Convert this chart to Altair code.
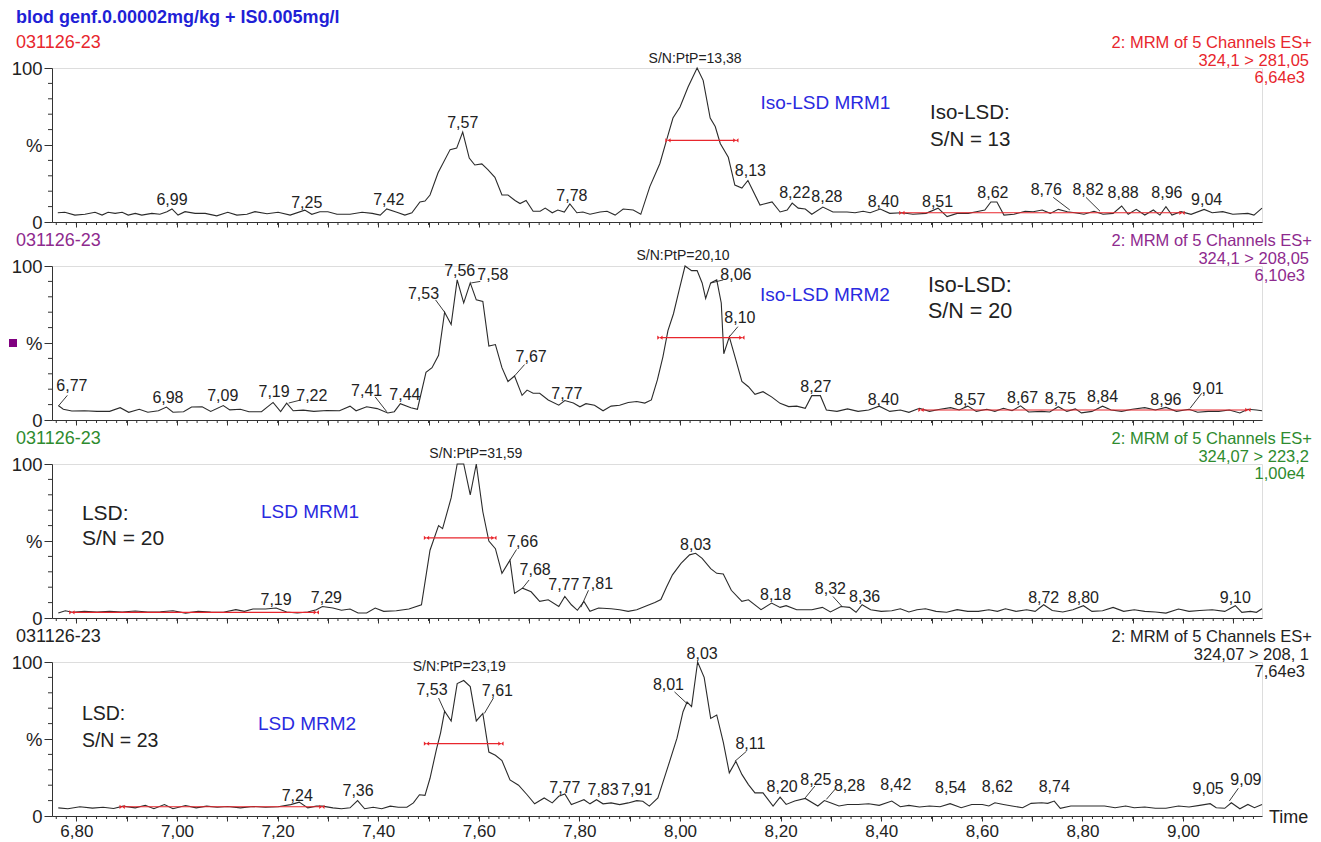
import altair as alt
import pandas as pd

FONT = "Liberation Sans"
W, H = 1210, 154
X_DOMAIN = [6.7515, 9.157]
RED = "#e8262d"
INK = "#222222"
BLUE = "#2a2ae0"

# ---------------- traces (time, % intensity) ----------------
p1_time = [6.763, 6.777, 6.797, 6.817, 6.837, 6.851, 6.863, 6.877, 6.891, 6.903, 6.917, 6.930, 6.950, 6.966,
           6.980, 6.990, 7.002, 7.016, 7.036, 7.056, 7.079, 7.101, 7.119, 7.139, 7.155, 7.179, 7.201, 7.225,
           7.254, 7.268, 7.284, 7.300, 7.318, 7.344, 7.368, 7.388, 7.404, 7.417, 7.437, 7.453, 7.467, 7.483,
           7.493, 7.503, 7.519, 7.543, 7.556, 7.568, 7.581, 7.592, 7.606, 7.618, 7.632, 7.646, 7.658, 7.672,
           7.682, 7.694, 7.708, 7.722, 7.732, 7.746, 7.757, 7.770, 7.781, 7.795, 7.807, 7.821, 7.841, 7.855,
           7.871, 7.887, 7.907, 7.922, 7.940, 7.960, 7.974, 7.986, 8.000, 8.016, 8.034, 8.046, 8.060, 8.070,
           8.080, 8.096, 8.109, 8.123, 8.135, 8.159, 8.183, 8.199, 8.213, 8.223, 8.235, 8.249, 8.262, 8.284,
           8.304, 8.332, 8.348, 8.364, 8.378, 8.398, 8.417, 8.441, 8.463, 8.489, 8.513, 8.531, 8.551, 8.573,
           8.589, 8.606, 8.618, 8.630, 8.644, 8.664, 8.686, 8.702, 8.720, 8.736, 8.752, 8.770, 8.785, 8.803,
           8.823, 8.841, 8.861, 8.878, 8.891, 8.907, 8.924, 8.941, 8.954, 8.966, 8.978, 8.996, 9.016, 9.042,
           9.058, 9.079, 9.099, 9.129, 9.141, 9.157]
p1_int = [6.0, 6.3, 4.5, 5.0, 6.3, 4.5, 6.3, 5.6, 6.3, 4.5, 5.6, 4.5, 5.6, 5.0,
          6.7, 8.5, 4.5, 6.7, 5.6, 5.6, 4.0, 6.3, 4.5, 5.0, 6.7, 5.4, 6.3, 4.5,
          7.7, 5.0, 6.7, 6.7, 5.0, 5.0, 6.3, 5.6, 4.5, 8.5, 6.3, 4.5, 6.0, 13.0,
          13.6, 17.5, 32, 47, 48, 58.4, 41.5, 37, 37.7, 34, 29, 17.5, 17.5, 14,
          12, 14, 7, 7, 9, 6, 7.8, 6.5, 11.7, 6, 6.5, 5, 6.5, 7,
          4.5, 8.4, 7.8, 5, 23, 38, 54, 67.5, 74.7, 87.7, 100, 92, 67.5, 62,
          51, 42, 24, 22, 27, 11, 13, 6.5, 7.8, 12.3, 9, 8.4, 5, 9.7,
          6.5, 6.5, 6, 7, 6, 8.4, 5.6, 6, 5, 5.6, 9, 3.5, 5.6, 5.6,
          6.7, 7.8, 13, 13, 4.5, 5, 7, 6.7, 7.8, 5.6, 8.2, 6.7, 6, 5,
          7, 5, 5.6, 10.4, 5, 8.2, 4.5, 7.8, 4.5, 10, 4.5, 6.7, 5, 8.2,
          6, 6.7, 5, 5.6, 4.5, 9]

p2_time = [6.764, 6.774, 6.791, 6.816, 6.841, 6.866, 6.887, 6.904, 6.925, 6.942, 6.963, 6.979, 6.992, 7.013,
           7.029, 7.050, 7.067, 7.092, 7.105, 7.126, 7.143, 7.168, 7.191, 7.206, 7.218, 7.231, 7.251, 7.272,
           7.298, 7.323, 7.344, 7.356, 7.377, 7.398, 7.419, 7.432, 7.444, 7.465, 7.478, 7.495, 7.507, 7.520,
           7.532, 7.545, 7.557, 7.570, 7.583, 7.595, 7.608, 7.620, 7.633, 7.646, 7.658, 7.671, 7.686, 7.696,
           7.708, 7.721, 7.738, 7.759, 7.771, 7.788, 7.801, 7.813, 7.830, 7.847, 7.863, 7.880, 7.897, 7.914,
           7.930, 7.943, 7.955, 7.966, 7.976, 7.987, 7.998, 8.010, 8.023, 8.034, 8.044, 8.051, 8.061, 8.073,
           8.082, 8.087, 8.098, 8.111, 8.123, 8.136, 8.149, 8.165, 8.182, 8.199, 8.216, 8.232, 8.249, 8.262,
           8.279, 8.291, 8.312, 8.333, 8.354, 8.375, 8.396, 8.417, 8.438, 8.455, 8.476, 8.496, 8.517, 8.538,
           8.555, 8.572, 8.589, 8.610, 8.626, 8.643, 8.660, 8.677, 8.693, 8.719, 8.735, 8.752, 8.769, 8.786,
           8.798, 8.819, 8.840, 8.857, 8.878, 8.899, 8.924, 8.945, 8.966, 8.987, 9.012, 9.029, 9.050, 9.071,
           9.092, 9.113, 9.129, 9.146, 9.157]
p2_int = [9.4, 7, 5.8, 6, 5.6, 5.6, 8, 5, 7, 5, 6, 8.4, 5, 5.4,
          8.4, 8.6, 5.6, 9.4, 6.6, 7, 5.4, 5.4, 11.4, 5.4, 11, 6, 6.4, 5.6,
          6.2, 6, 9, 6, 8.6, 7.4, 4.6, 5.4, 10.6, 8, 7, 31, 34, 42,
          70, 62, 91, 76, 89, 78, 77, 48, 49, 34, 25, 28.6, 16, 19.4,
          17.4, 17.4, 13, 9.6, 12.6, 11, 8.6, 10.6, 9.6, 6, 9, 9.6, 11.4, 12,
          11, 13, 26, 41, 58, 69, 84, 100, 97, 97, 89, 79, 89, 91,
          76, 43, 54, 39, 25, 21.6, 16.7, 18.4, 15, 10.8, 8.7, 9, 7.6, 15.8,
          15.8, 6.5, 5.6, 7.2, 5.6, 6.5, 9, 5.6, 6.5, 5, 7.6, 5.6, 7, 8,
          6.5, 9, 5.6, 7, 5.6, 7.6, 6, 9.2, 5.2, 5.6, 5.2, 8.6, 5.6, 7.2,
          4.6, 5.6, 9, 6.5, 5.6, 7, 8, 6.5, 8.2, 5.6, 7, 5, 5.6, 5.6,
          6.5, 4.6, 7, 6.5, 6]

p3_time = [6.764, 6.778, 6.792, 6.816, 6.841, 6.866, 6.891, 6.917, 6.942, 6.967, 6.992, 7.017, 7.042, 7.067,
           7.092, 7.117, 7.134, 7.151, 7.176, 7.197, 7.218, 7.239, 7.260, 7.277, 7.289, 7.310, 7.327, 7.344,
           7.360, 7.377, 7.394, 7.411, 7.436, 7.461, 7.486, 7.503, 7.520, 7.528, 7.545, 7.557, 7.570, 7.583,
           7.595, 7.608, 7.620, 7.633, 7.646, 7.662, 7.671, 7.687, 7.704, 7.721, 7.738, 7.759, 7.771, 7.784,
           7.796, 7.809, 7.821, 7.838, 7.863, 7.880, 7.897, 7.914, 7.930, 7.950, 7.962, 7.973, 7.985, 8.002,
           8.019, 8.031, 8.044, 8.061, 8.073, 8.086, 8.102, 8.123, 8.136, 8.161, 8.182, 8.199, 8.211, 8.232,
           8.262, 8.283, 8.299, 8.320, 8.337, 8.350, 8.362, 8.379, 8.400, 8.421, 8.438, 8.455, 8.471, 8.488,
           8.509, 8.530, 8.551, 8.572, 8.593, 8.614, 8.631, 8.647, 8.668, 8.689, 8.706, 8.723, 8.740, 8.761,
           8.781, 8.802, 8.819, 8.840, 8.861, 8.882, 8.903, 8.924, 8.945, 8.966, 8.991, 9.012, 9.033, 9.058,
           9.083, 9.104, 9.117, 9.134, 9.146, 9.157]
p3_int = [3.2, 4.7, 3.7, 4.3, 3.9, 4.3, 3.9, 4.5, 3.9, 4.1, 4.7, 3.2, 4.3, 3.9,
          3.7, 5.4, 4.3, 5.8, 5.8, 6.5, 3.9, 3.2, 3.9, 5.4, 7.5, 6.5, 5.0, 5.8,
          3.2, 3.2, 6.5, 4.3, 4.7, 5.8, 8.6, 44, 60, 58, 78, 100, 100, 80,
          100, 69, 50, 45, 29, 37.6, 16, 19.4, 17, 10.8, 11.8, 7.5, 14, 8.6,
          5, 10.8, 4.3, 6.5, 6, 5.4, 4.3, 5.4, 7.5, 10, 12, 20, 28, 35.5,
          41, 42, 38.7, 32, 29, 28.6, 18, 10.8, 11.8, 5.4, 9.7, 6.9, 8, 5.4,
          5.4, 6.9, 3.9, 7.5, 6.9, 3.7, 8.6, 5.4, 4.3, 4.7, 6.0, 3.9, 5.4, 6.0,
          4.3, 3.7, 5.4, 4.3, 4.3, 5.4, 4.3, 6.0, 4.3, 5.4, 4.3, 8.6, 4.9, 3.9,
          5.4, 8.0, 4.3, 4.7, 6.9, 4.3, 5.4, 4.3, 3.9, 3.2, 5.8, 4.3, 4.9, 5.4,
          4.3, 8.0, 3.7, 4.3, 3.7, 6.0]

p4_time = [6.764, 6.783, 6.807, 6.832, 6.853, 6.874, 6.893, 6.917, 6.937, 6.954, 6.975, 6.992, 7.017, 7.038,
           7.059, 7.080, 7.101, 7.126, 7.151, 7.176, 7.201, 7.226, 7.243, 7.260, 7.277, 7.289, 7.310, 7.327,
           7.344, 7.359, 7.373, 7.390, 7.407, 7.424, 7.440, 7.457, 7.470, 7.482, 7.493, 7.503, 7.516, 7.524,
           7.532, 7.545, 7.557, 7.570, 7.583, 7.595, 7.608, 7.620, 7.633, 7.646, 7.662, 7.679, 7.696, 7.711,
           7.730, 7.746, 7.759, 7.771, 7.784, 7.796, 7.809, 7.821, 7.834, 7.847, 7.863, 7.880, 7.897, 7.914,
           7.926, 7.939, 7.956, 7.977, 7.994, 8.006, 8.014, 8.023, 8.035, 8.048, 8.061, 8.073, 8.086, 8.098,
           8.111, 8.123, 8.136, 8.149, 8.165, 8.185, 8.199, 8.211, 8.228, 8.249, 8.274, 8.287, 8.299, 8.316,
           8.333, 8.354, 8.375, 8.396, 8.421, 8.438, 8.455, 8.476, 8.496, 8.517, 8.537, 8.559, 8.580, 8.601,
           8.614, 8.626, 8.643, 8.660, 8.681, 8.698, 8.719, 8.731, 8.744, 8.756, 8.777, 8.798, 8.823, 8.844,
           8.865, 8.886, 8.903, 8.924, 8.945, 8.966, 8.991, 9.012, 9.033, 9.054, 9.066, 9.083, 9.096, 9.113,
           9.129, 9.142, 9.157]
p4_int = [5.3, 4.7, 6, 5.1, 5.7, 4.9, 6.4, 5.3, 7, 4.7, 7.4, 4.7, 6.8, 5.3,
          6.4, 5.7, 6.2, 5.3, 6.2, 5.7, 6, 7.4, 9, 5.3, 6.4, 6.4, 5.3, 4.7,
          5.3, 10, 4.7, 5.7, 4.7, 6.4, 5.7, 5.7, 8.5, 13.8, 13.4, 24.5, 43.6, 54,
          68, 61.7, 86, 88, 84, 61.7, 66.6, 41.5, 39.4, 36, 23.4, 20, 13.8, 7.9,
          11.7, 8.5, 12.8, 14.3, 7.4, 9, 10.6, 7.9, 10.6, 7.9, 8.5, 7.4, 8.5, 10,
          9.6, 6.4, 11.7, 33, 50.5, 67.7, 74, 71, 100, 90, 63.4, 65.6, 48, 28,
          35.5, 27, 20.4, 15, 15, 6.5, 12.3, 7.5, 9.7, 11.4, 6.5, 10, 8.6, 6.5,
          7.5, 7.5, 8, 6.9, 9.7, 6, 6.9, 5.8, 6.5, 6, 8, 5.4, 7.5, 7.5,
          6.5, 8.6, 7.5, 6.5, 5.4, 8.2, 8.6, 8.2, 9.7, 5, 6.5, 6.5, 6.5, 6.5,
          5.4, 6.5, 5.4, 5.8, 5, 5, 6.5, 5.8, 6.9, 8, 5.4, 5, 8.6, 4.7,
          7.5, 5.4, 7.5]

# ---------------- peak labels ----------------
p1_lab = ["6,99", "7,25", "7,42", "7,57", "7,78", "8,13", "8,22", "8,28", "8,40", "8,51", "8,62",
          "8,76", "8,82", "8,88", "8,96", "9,04"]
p1_lab_t = [6.990, 7.258, 7.421, 7.568, 7.785, 8.140, 8.228, 8.292, 8.404, 8.512, 8.622,
            8.728, 8.811, 8.881, 8.968, 9.047]
p1_lab_v = [14.3, 12.3, 14.3, 64, 17, 33, 19, 16, 13, 13, 19, 21, 21, 19, 19, 14]

p2_lab = ["6,77", "6,98", "7,09", "7,19", "7,22", "7,41", "7,44", "7,53", "7,56", "7,58", "7,67", "7,77",
          "8,06", "8,10", "8,27", "8,40", "8,57", "8,67", "8,75", "8,84", "8,96", "9,01"]
p2_lab_t = [6.791, 6.982, 7.091, 7.193, 7.268, 7.377, 7.453, 7.490, 7.562, 7.628, 7.704, 7.775,
            8.111, 8.119, 8.270, 8.404, 8.576, 8.681, 8.756, 8.840, 8.966, 9.050]
p2_lab_v = [22, 14, 15.6, 18, 15.5, 19, 16, 82, 97, 94, 41, 16.6,
            94, 66, 21.6, 13, 13, 14, 13.4, 15, 13, 20]

p3_lab = ["7,19", "7,29", "7,66", "7,68", "7,77", "7,81", "8,03", "8,18", "8,32", "8,36", "8,72", "8,80", "9,10"]
p3_lab_t = [7.197, 7.297, 7.687, 7.712, 7.769, 7.836, 8.031, 8.190, 8.299, 8.367, 8.723, 8.802, 9.104]
p3_lab_v = [11.8, 13, 49.5, 31, 21.5, 22, 47.5, 15, 18.7, 13.5, 13, 13, 13]

p4_lab = ["7,24", "7,36", "7,53", "7,61", "7,77", "7,83", "7,91", "8,01", "8,03", "8,11", "8,20", "8,25",
          "8,28", "8,42", "8,54", "8,62", "8,74", "9,05", "9,09"]
p4_lab_t = [7.239, 7.360, 7.507, 7.637, 7.771, 7.847, 7.914, 7.977, 8.044, 8.140, 8.203, 8.270,
            8.337, 8.429, 8.538, 8.631, 8.744, 9.050, 9.125]
p4_lab_v = [12.8, 16, 82, 81, 18.5, 17, 17, 85, 105, 47, 19, 23.6,
            19.4, 20, 18, 18.7, 18.7, 17.8, 23.6]

# leader lines (t1, v1, t2, v2)
p1_lead = [(8.742, 16, 8.775, 7.8), (8.807, 16, 8.835, 7)]
p2_lead = [(6.782, 16, 6.765, 9.4), (7.246, 13, 7.222, 11), (7.394, 15, 7.417, 5.4),
           (7.514, 78, 7.532, 70), (7.603, 90, 7.585, 89), (7.691, 36, 7.671, 28.6),
           (8.086, 91, 8.062, 89), (8.115, 60.6, 8.098, 54), (9.037, 17.3, 9.014, 7.6)]
p3_lead = [(7.675, 44.5, 7.662, 37.6), (7.700, 24.7, 7.687, 19.4), (7.818, 18, 7.803, 7),
           (8.304, 14, 8.322, 7.5)]
p4_lead = [(7.520, 76.6, 7.532, 68), (7.629, 76.6, 7.611, 66.6), (7.989, 80.6, 8.014, 73),
           (8.132, 42, 8.109, 35.5), (8.268, 19.4, 8.249, 11.8), (8.310, 18, 8.291, 10.8),
           (9.110, 18, 9.092, 9.7)]

# S/N peak-width bars and noise regions (t1, t2, level)
p_sn_bar = [(7.976, 8.111, 53), (7.960, 8.123, 53.5), (7.496, 7.630, 52), (7.496, 7.644, 47)]
p_noise = [(8.441, 8.998, 6), (8.479, 9.129, 6.5), (6.791, 7.277, 3.7), (6.891, 7.288, 6)]
p_snptp = ["S/N:PtP=13,38", "S/N:PtP=20,10", "S/N:PtP=31,59", "S/N:PtP=23,19"]
p_snptp_t = [8.030, 8.006, 7.594, 7.561]
p_snptp_v = [106, 106.5, 106.5, 97]

# channel descriptions
ids = ["031126-23"] * 4
ch_line1 = ["2: MRM of 5 Channels ES+"] * 4
ch_line2 = ["324,1 > 281,05", "324,1 > 208,05", "324,07 > 223,2", "324,07 > 208, 1"]
ch_line3 = ["6,64e3", "6,10e3", "1,00e4", "7,64e3"]
ch_color = ["#e8262d", "#8e2a8e", "#2e8b2e", "#222222"]
trace_name = ["Iso-LSD MRM1", "Iso-LSD MRM2", "LSD MRM1", "LSD MRM2"]
trace_name_t = [8.160, 8.159, 7.167, 7.161]
trace_name_v = [77, 81, 69, 60]
sn_head = ["Iso-LSD:", "Iso-LSD:", "LSD:", "LSD:"]
sn_value = ["S/N = 13", "S/N = 20", "S/N = 20", "S/N = 23"]
sn_t = [8.497, 8.493, 6.811, 6.811]
sn_v1 = [71, 87, 67.5, 66]
sn_v2 = [53, 70, 51, 49]
sn_size = [20.5, 21.5, 21, 19.5]
TITLE = "blod genf.0.00002mg/kg + IS0.005mg/l"

XT_MAJOR = [6.8, 6.9, 7.0, 7.1, 7.2, 7.3, 7.4, 7.5, 7.6, 7.7, 7.8, 7.9, 8.0, 8.1, 8.2, 8.3,
            8.4, 8.5, 8.6, 8.7, 8.8, 8.9, 9.0, 9.1]
XT_MINOR = [round(6.76 + 0.02 * k, 2) for k in range(120)]
YT_MINOR = [10, 20, 30, 40, 60, 70, 80, 90]

XS = alt.Scale(domain=X_DOMAIN, nice=False, zero=False)
YS = alt.Scale(domain=[0, 100], nice=False)
BOWTIE = "M-1,-0.8L1,0.8L1,-0.8L-1,0.8Z"


def X(field):
    return alt.X(field, type="quantitative", scale=XS, title=None)


def Y(field):
    return alt.Y(field, type="quantitative", scale=YS, title=None)


def txt_px(text, x, y, size, color, align="left", weight="normal"):
    return alt.Chart(alt.Data(values=[{}])).mark_text(
        text=text, align=align, baseline="middle", font=FONT, fontSize=size,
        color=color, fontWeight=weight
    ).encode(x=alt.value(x), y=alt.value(y))


def txt_data(text, t, v, size, color, align="left"):
    df = pd.DataFrame({"t": [t], "v": [v], "s": [text]})
    return alt.Chart(df).mark_text(
        align=align, baseline="middle", font=FONT, fontSize=size, color=color
    ).encode(x=X("t"), y=Y("v"), text="s:N")


def panel(i, time, inten, lab, lab_t, lab_v, leads):
    bottom = i == 3
    xaxis = alt.Axis(
        values=XT_MAJOR, tickSize=5, grid=False, title=None, labels=bottom,
        labelExpr="round(datum.value*10) % 2 == 0 ? replace(format(datum.value, '.2f'), '.', ',') : ''",
        labelFont=FONT, labelFontSize=17, labelColor=INK, labelPadding=2,
        domainColor="#333", tickColor="#333", labelFlush=False,
    )
    yaxis = alt.Axis(
        values=[0, 50, 100], tickSize=8, grid=False, title=None,
        labelExpr="datum.value == 50 ? '%' : datum.label",
        labelFont=FONT, labelFontSize=18.5, labelColor=INK, labelPadding=2,
        domainColor="#333", tickColor="#333",
    )
    trace = alt.Chart(pd.DataFrame({"t": time, "v": inten})).mark_line(
        color="#2b2b2b", strokeWidth=1.1
    ).encode(
        x=alt.X("t:Q", scale=XS, axis=xaxis, title=None),
        y=alt.Y("v:Q", scale=YS, axis=yaxis, title=None),
    )
    xminor = alt.Chart(pd.DataFrame({"t": XT_MINOR})).mark_rule(color="#333", strokeWidth=1).encode(
        x=X("t"), y=alt.value(H), y2=alt.value(H + 3))
    yminor = alt.Chart(pd.DataFrame({"v": YT_MINOR})).mark_rule(color="#333", strokeWidth=1).encode(
        y=Y("v"), x=alt.value(-4), x2=alt.value(0))

    bars = pd.DataFrame({
        "t1": [p_sn_bar[i][0], p_noise[i][0]],
        "t2": [p_sn_bar[i][1], p_noise[i][1]],
        "v": [p_sn_bar[i][2], p_noise[i][2]],
    })
    red_rules = alt.Chart(bars).mark_rule(color=RED, strokeWidth=1.2).encode(
        x=X("t1"), x2="t2", y=Y("v"))
    ends = pd.DataFrame({
        "t": [p_sn_bar[i][0], p_sn_bar[i][1], p_noise[i][0], p_noise[i][1]],
        "v": [p_sn_bar[i][2], p_sn_bar[i][2], p_noise[i][2], p_noise[i][2]],
    })
    red_ends = alt.Chart(ends).mark_point(
        shape=BOWTIE, filled=True, size=28, color=RED, opacity=1
    ).encode(x=X("t"), y=Y("v"))

    labels = alt.Chart(pd.DataFrame({"t": lab_t, "v": lab_v, "s": lab})).mark_text(
        font=FONT, fontSize=16, color=INK, baseline="middle", align="center"
    ).encode(x=X("t"), y=Y("v"), text="s:N")
    ld = pd.DataFrame(leads, columns=["t1", "v1", "t2", "v2"])
    leaders = alt.Chart(ld).mark_rule(color=INK, strokeWidth=0.9).encode(
        x=X("t1"), x2="t2", y=Y("v1"), y2="v2")

    layers = [trace, xminor, yminor, red_rules, red_ends, leaders, labels,
              txt_data(p_snptp[i], p_snptp_t[i], p_snptp_v[i], 14, INK, "center"),
              txt_data(trace_name[i], trace_name_t[i], trace_name_v[i], 19, BLUE),
              txt_data(sn_head[i], sn_t[i], sn_v1[i], sn_size[i], INK),
              txt_data(sn_value[i], sn_t[i], sn_v2[i], sn_size[i], INK),
              txt_px(ids[i], -36, -25, 18, ch_color[i]),
              txt_px(ch_line1[i], W + 50, -25, 16.5, ch_color[i], "right"),
              txt_px(ch_line2[i], W + 47, -7, 16.5, ch_color[i], "right"),
              txt_px(ch_line3[i], W + 43, 10, 16.5, ch_color[i], "right")]
    if i == 0:
        layers.append(txt_px(TITLE, -36, -50, 18, "#1f1fd6", weight="bold"))
    if i == 1:
        layers.append(alt.Chart(alt.Data(values=[{}])).mark_square(
            size=64, color="#800080", opacity=1).encode(x=alt.value(-39), y=alt.value(77)))
    if bottom:
        layers.append(txt_px("Time", W + 7, H + 2, 18, INK))
    return alt.layer(*layers).properties(width=W, height=H)


panels = [
    panel(0, p1_time, p1_int, p1_lab, p1_lab_t, p1_lab_v, p1_lead),
    panel(1, p2_time, p2_int, p2_lab, p2_lab_t, p2_lab_v, p2_lead),
    panel(2, p3_time, p3_int, p3_lab, p3_lab_t, p3_lab_v, p3_lead),
    panel(3, p4_time, p4_int, p4_lab, p4_lab_t, p4_lab_v, p4_lead),
]

chart = alt.vconcat(*panels, spacing=44, bounds="flush").properties(
    padding={"left": 0, "top": 0, "right": 0, "bottom": 0}
).configure_view(stroke=None).configure(background="white")

chart.save("out.html", embed_options={"renderer": "svg", "actions": False})
